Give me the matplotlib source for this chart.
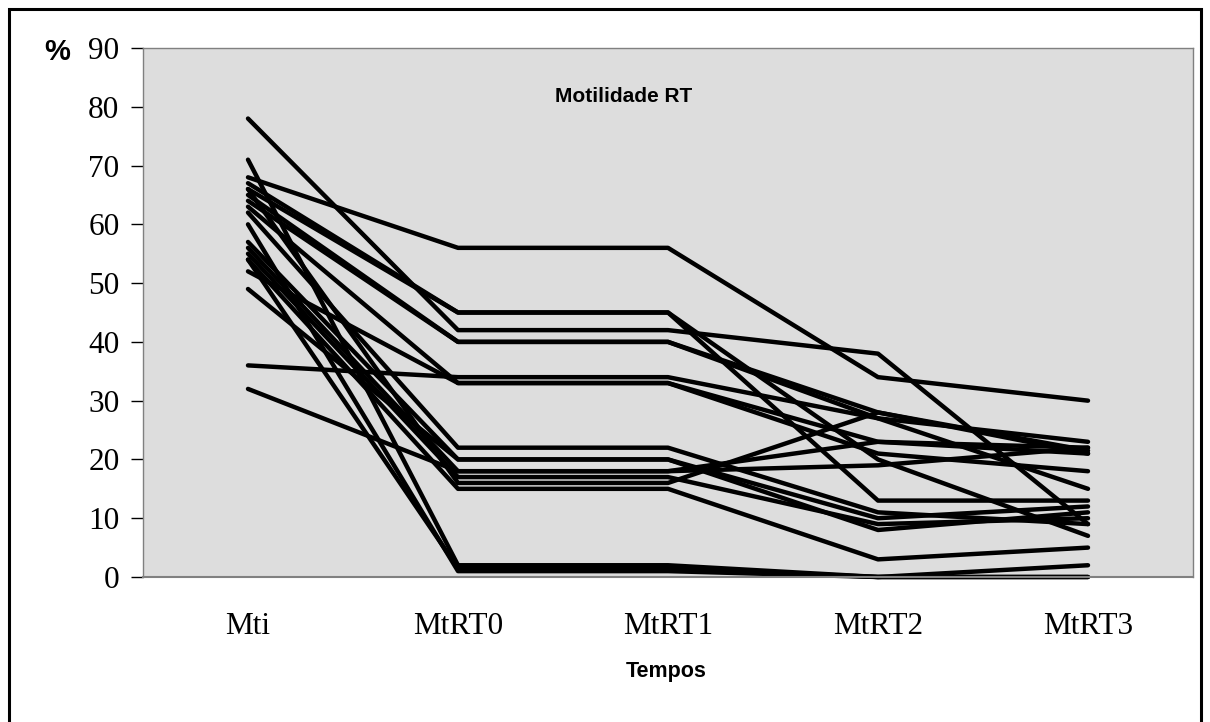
import matplotlib
matplotlib.use("Agg")
import matplotlib.pyplot as plt
from matplotlib.patches import Rectangle

# Tempos de medida
tempos = ["Mti", "MtRT0", "MtRT1", "MtRT2", "MtRT3"]

# Motilidade (%) de cada amostra em cada tempo
amostras = [
    [78, 42, 42, 38, 9],
    [71, 2, 2, 0, 2],
    [68, 56, 56, 34, 30],
    [67, 45, 45, 13, 13],
    [66, 45, 45, 20, 7],
    [65, 40, 40, 27, 15],
    [64, 40, 40, 28, 21],
    [63, 33, 33, 23, 22],
    [62, 22, 22, 11, 9],
    [60, 1, 1, 0, 0],
    [57, 20, 20, 10, 12],
    [56, 18, 18, 23, 21],
    [55, 17, 17, 9, 10],
    [54, 15, 15, 3, 5],
    [52, 33, 33, 21, 18],
    [49, 20, 20, 8, 11],
    [36, 34, 34, 27, 23],
    [32, 18, 18, 19, 22],
    [66, 16, 16, 28, 21.5],
    [54, 1.5, 1.5, 0, 0],
]

fig = plt.figure(figsize=(12.1, 7.22), dpi=100)
ax = fig.add_axes([143 / 1210, 1 - 577 / 722, 1050 / 1210, 529 / 722])
ax.set_facecolor("#dddddd")

x = list(range(len(tempos)))
for valores in amostras:
    ax.plot(x, valores, color="black", lw=3.2, solid_capstyle="round",
            solid_joinstyle="round", clip_on=False)

ax.set_xlim(-0.5, 4.5)
ax.set_ylim(0, 90)
ax.set_yticks(range(0, 91, 10))
ax.set_xticks(x)
ax.set_xticklabels(tempos)

for lbl in ax.get_yticklabels() + ax.get_xticklabels():
    lbl.set_fontfamily("Liberation Serif")
    lbl.set_fontsize(22.5)
ax.tick_params(axis="y", length=9, width=1, color="black", pad=8)
ax.tick_params(axis="x", length=0, pad=25)

for s in ["top", "right", "left"]:
    ax.spines[s].set_color("#808080")
    ax.spines[s].set_linewidth(1)
ax.spines["bottom"].set_color("#808080")
ax.spines["bottom"].set_linewidth(1.5)

ax.text((624 - 143) / 1050, 0.908, "Motilidade RT", transform=ax.transAxes,
        ha="center", va="center",
        fontfamily="Liberation Sans", fontweight="bold", fontsize=15)
fig.text(666 / 1210, 1 - 672 / 722, "Tempos", ha="center", va="center",
         fontfamily="Liberation Sans", fontweight="bold", fontsize=15.5)
fig.text(57 / 1210, 1 - 52 / 722, "%", ha="center", va="center",
         fontfamily="Liberation Sans", fontweight="bold", fontsize=21)

# Moldura exterior
fig.patches.append(Rectangle((9 / 1210, -0.05), 1192 / 1210, 1 - 9 / 722 + 0.05,
                             transform=fig.transFigure, fill=False,
                             edgecolor="black", lw=2.2))

fig.savefig("out.png", dpi=100)
